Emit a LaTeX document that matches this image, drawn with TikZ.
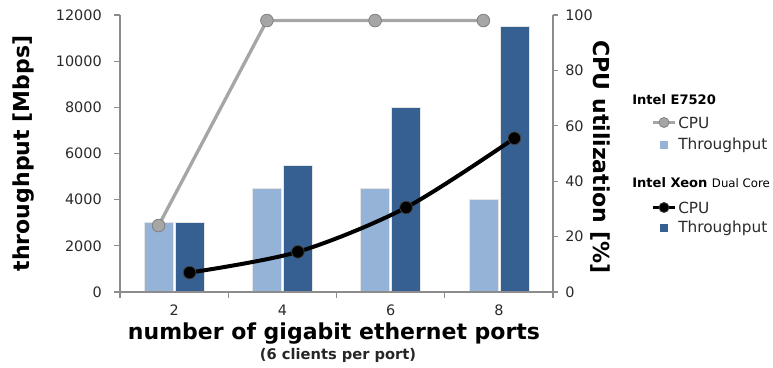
\documentclass[tikz,border=0pt]{standalone}
\usepackage{fontspec}
\setmainfont{DejaVu Sans}
\usetikzlibrary{positioning}
\definecolor{lightbar}{HTML}{95B3D7}
\definecolor{darkbar}{HTML}{376092}
\definecolor{axisgray}{HTML}{8C8C8C}
\definecolor{cpugray}{HTML}{A6A6A6}
\definecolor{cpuedge}{HTML}{808080}
\definecolor{ticktext}{HTML}{2A2A2A}

\tikzset{
  axisline/.style={draw=axisgray, line width=0.9pt},
  ticklabel/.style={font=\fontsize{10.8}{12}\selectfont, text=ticktext, inner sep=0pt},
  axistitle/.style={font=\fontsize{16.5}{18}\selectfont\bfseries, inner sep=0pt},
  subtitle/.style={font=\fontsize{11}{12}\selectfont\bfseries, text=black!85, inner sep=0pt},
  e7520bar/.style={fill=lightbar, draw=black!10, line width=0.5pt},
  xeonbar/.style={fill=darkbar, draw=black!10, line width=0.5pt},
  e7520dot/.style={circle, fill=cpugray, draw=cpuedge, line width=0.6pt, minimum size=9.5pt, inner sep=0pt},
  xeondot/.style={circle, fill=black, draw=black!75, line width=0.6pt, minimum size=9.5pt, inner sep=0pt},
  e7520line/.style={draw=cpugray, line width=2.5pt},
  xeonline/.style={draw=black, line width=3pt},
  legendhead/.style={font=\fontsize{9.8}{11}\selectfont\bfseries, anchor=west, inner sep=0pt},
  legendtext/.style={font=\fontsize{11.5}{13}\selectfont, text=ticktext, anchor=west, inner sep=0pt},
}

\begin{document}
\begin{tikzpicture}[x=0.75pt,y=-0.75pt]
  \useasboundingbox (0,0) rectangle (773,367);

  % bars (Mbps in thousands)
  \foreach \i/\lbl/\lt/\dk in {1/2/3/3, 2/4/4.5/5.5, 3/6/4.5/8, 4/8/4/11.5} {
    \pgfmathsetmacro{\cx}{120+108.25*(\i-0.5)}
    \path[e7520bar] ({\cx-30},292) rectangle ({\cx-1},{292-23.083*\lt});
    \path[xeonbar] ({\cx+1},292) rectangle ({\cx+30},{292-23.083*\dk});
    \node[ticklabel] (port\i) at (\cx,310) {\lbl};
  }

  % axes
  \draw[axisline] (120,15) -- (120,292) -- (553,292) -- (553,15);
  \foreach \v in {0,...,6} {
    \draw[axisline] (114,{292-46.167*\v}) -- (120,{292-46.167*\v});
    \node[ticklabel, anchor=east] (mbps\v) at (102,{292-46.167*\v}) {\the\numexpr2000*\v\relax};
  }
  \foreach \v in {0,...,5} {
    \draw[axisline] (553,{292-55.4*\v}) -- (558,{292-55.4*\v});
    \node[ticklabel, anchor=west] (pct\v) at (565,{292-55.4*\v}) {\the\numexpr20*\v\relax};
  }
  \foreach \v in {0,...,4}
    \draw[axisline] ({120+108.25*\v},292) -- ({120+108.25*\v},298);

  % titles
  \node[axistitle, rotate=90] (ytitle) at (24,153.5) {throughput [Mbps]};
  \node[axistitle, rotate=-90] (cputitle) at (600,157) {CPU utilization [\%]};
  \node[axistitle] (xtitle) at (334,333.5) {number of gigabit ethernet ports};
  \node[subtitle] (xsub) at (338,355.5) {(6 clients per port)};

  % CPU E7520
  \coordinate (e1) at (158.6,{292-2.77*24});
  \coordinate (e2) at (266.9,{292-2.77*98});
  \coordinate (e3) at (375.1,{292-2.77*98});
  \coordinate (e4) at (483.4,{292-2.77*98});
  \draw[e7520line] (e1) -- (e2) -- (e3) -- (e4);
  \foreach \k in {1,...,4}
    \node[e7520dot] (e7520cpu\k) at (e\k) {};

  % CPU Xeon
  \coordinate (x1) at (189.6,{292-2.77*7});
  \coordinate (x2) at (297.9,{292-2.77*14.5});
  \coordinate (x3) at (406.1,{292-2.77*30.5});
  \coordinate (x4) at (514.4,{292-2.77*55.5});
  \draw[xeonline] plot[smooth, tension=0.5] coordinates {(x1) (x2) (x3) (x4)};
  \foreach \k in {1,...,4}
    \node[xeondot] (xeoncpu\k) at (x\k) {};

  % legend
  \node[legendhead] (head1) at (632,100) {Intel E7520};
  \coordinate (l1a) at (653,122.5);
  \coordinate (l1b) at (675,122.5);
  \draw[e7520line, line width=2.2pt] (l1a) -- (l1b);
  \node[e7520dot, minimum size=7.5pt] (leg1dot) at (664,122.5) {};
  \node[legendtext] (leg1cpu) at (678,122.5) {CPU};
  \fill[lightbar] (659.5,141) rectangle (667.5,149);
  \node[legendtext] (leg1tp) at (678,145) {Throughput};

  \node[legendhead] (head2) at (632,183) {Intel Xeon {\fontsize{8.8}{10}\selectfont\mdseries Dual Core}};
  \coordinate (l2a) at (653,207.5);
  \coordinate (l2b) at (675,207.5);
  \draw[xeonline, line width=2.4pt] (l2a) -- (l2b);
  \node[xeondot, minimum size=7.5pt] (leg2dot) at (664,207.5) {};
  \node[legendtext] (leg2cpu) at (678,207.5) {CPU};
  \fill[darkbar] (659.5,224) rectangle (667.5,232);
  \node[legendtext] (leg2tp) at (678,228) {Throughput};
\end{tikzpicture}
\end{document}
